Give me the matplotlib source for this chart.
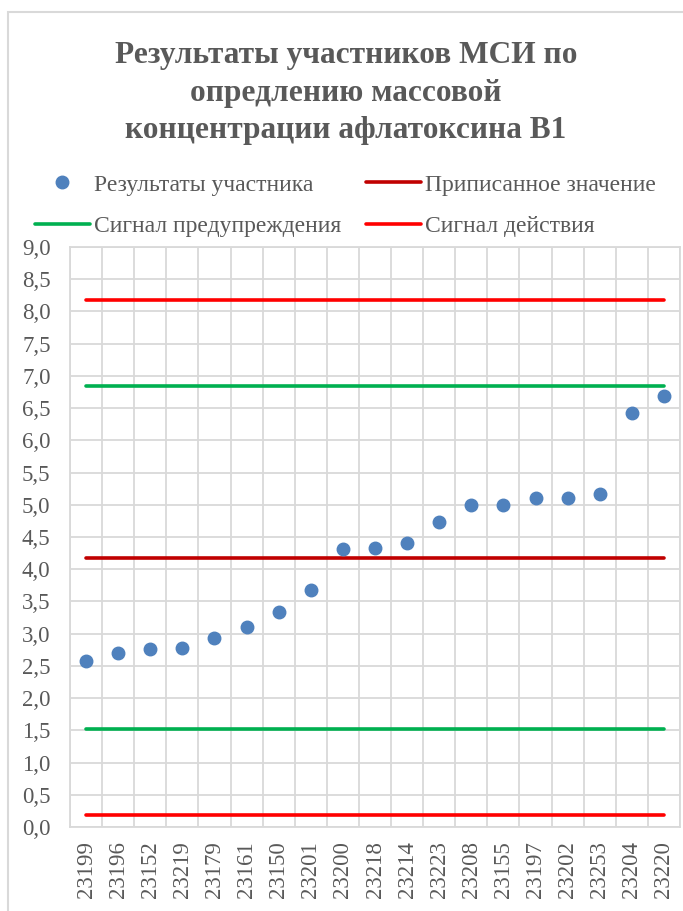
import matplotlib
matplotlib.use("Agg")
import matplotlib.pyplot as plt
from matplotlib.lines import Line2D
from matplotlib.patches import Rectangle
from matplotlib.ticker import FuncFormatter, MultipleLocator

plt.rcParams["font.family"] = ["Liberation Serif", "DejaVu Serif"]

codes = ["23199", "23196", "23152", "23219", "23179", "23161", "23150", "23201",
         "23200", "23218", "23214", "23223", "23208", "23155", "23197", "23202",
         "23253", "23204", "23220"]
results = [2.58, 2.70, 2.76, 2.78, 2.94, 3.11, 3.33, 3.67, 4.31, 4.33, 4.40,
           4.73, 4.99, 5.00, 5.10, 5.10, 5.16, 6.42, 6.69]
assigned = 4.18
warning = [1.52, 6.84]
action = [0.19, 8.17]

TEXT = "#595959"
GRID = "#d9d9d9"
BLUE = "#4f81bd"
DARKRED = "#c00000"
GREEN = "#00b050"
RED = "#ff0000"

W, H = 683, 911
fig = plt.figure(figsize=(W / 100, H / 100), dpi=100)
fig.patch.set_facecolor("white")

# outer chart border (cut off at right and bottom in the reference)
fig.add_artist(Rectangle((8 / W, -0.1), 1.2, 1 - 12 / H + 0.1,
                         transform=fig.transFigure, fill=False,
                         edgecolor=GRID, linewidth=1.5))

ax = fig.add_axes([70 / W, 1 - 827 / H, 610 / W, 580 / H])
x = list(range(len(codes)))
first, last = x[0], x[-1]

ax.hlines([action[0], action[1]], first, last, color=RED, linewidth=2.6, zorder=3)
ax.hlines([warning[0], warning[1]], first, last, color=GREEN, linewidth=2.6, zorder=3)
ax.hlines(assigned, first, last, color=DARKRED, linewidth=2.6, zorder=3)
for coll in ax.collections:
    coll.set_capstyle("round")
ax.plot(x, results, "o", color=BLUE, markersize=9, zorder=4)

ax.set_xlim(-0.5, len(codes) - 0.5)
ax.set_ylim(0, 9)
ax.yaxis.set_major_locator(MultipleLocator(0.5))
ax.yaxis.set_major_formatter(FuncFormatter(lambda v, _: f"{v:.1f}".replace(".", ",")))
ax.set_xticks(x)
ax.set_xticklabels(codes, rotation=90)
ax.set_xticks([i - 0.5 for i in range(len(codes) + 1)], minor=True)
ax.grid(True, which="minor", axis="x", color=GRID, linewidth=1.3)
ax.grid(True, which="major", axis="y", color=GRID, linewidth=1.3)
ax.set_axisbelow(True)
ax.tick_params(axis="both", which="both", length=0, colors=TEXT, labelsize=16.5)
ax.tick_params(axis="y", pad=14)
ax.tick_params(axis="x", pad=10)
for s in ax.spines.values():
    s.set_color(GRID)
    s.set_linewidth(1.3)

title_lines = ["Результаты участников МСИ по", "опредлению массовой",
               "концентрации афлатоксина В1"]
for i, line in enumerate(title_lines):
    fig.text(346 / W, 1 - (63 + 37.5 * i) / H, line, ha="center", va="baseline",
             fontsize=22.6, fontweight="bold", color=TEXT)

handles = [
    Line2D([], [], linestyle="none", marker="o", color=BLUE, markersize=9),
    Line2D([], [], color=GREEN, linewidth=2.6, solid_capstyle="round"),
    Line2D([], [], color=DARKRED, linewidth=2.6, solid_capstyle="round"),
    Line2D([], [], color=RED, linewidth=2.6, solid_capstyle="round"),
]
labels = ["Результаты участника", "Сигнал предупреждения",
          "Приписанное значение", "Сигнал действия"]
leg = fig.legend(handles, labels, ncol=2, loc="upper left",
                 bbox_to_anchor=(35 / W, 1 - 174 / H), frameon=False,
                 fontsize=17, handlelength=2.32, handletextpad=0.17,
                 columnspacing=1.07, labelspacing=0.85, borderpad=0,
                 borderaxespad=0)
for t in leg.get_texts():
    t.set_color(TEXT)

fig.savefig("out.png", dpi=100)
